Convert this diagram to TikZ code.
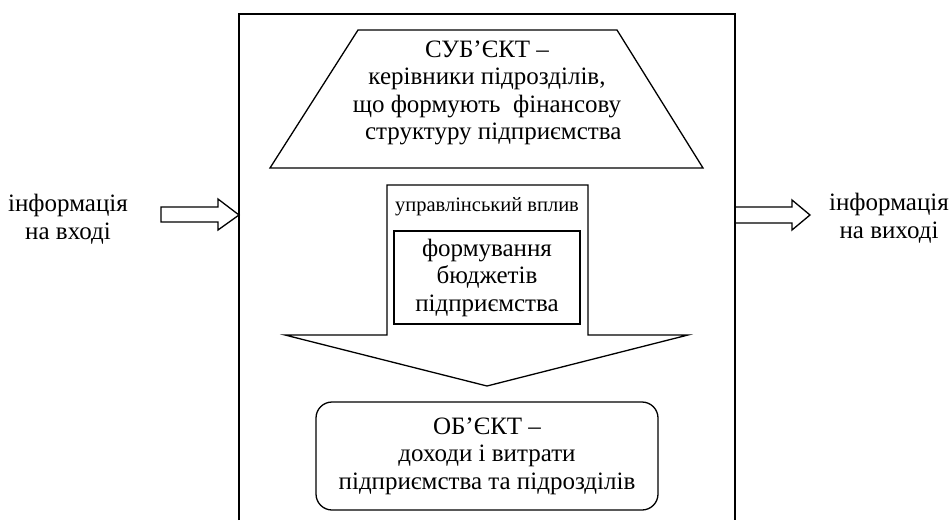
\documentclass[tikz,border=0pt]{standalone}
\usepackage{fontspec}
\setmainfont{Liberation Serif}
\usepackage{tikz}
\usetikzlibrary{calc}
\definecolor{ink}{HTML}{000000}
\definecolor{paper}{HTML}{FFFFFF}
\tikzset{
  frame/.style={draw=ink, line width=1.3pt, line join=miter},
  lab/.style={text=ink, align=center, inner sep=0pt, font=\fontsize{25}{27.5}\selectfont},
  labs/.style={text=ink, align=center, inner sep=0pt, font=\fontsize{20.5}{22}\selectfont},
  budgbox/.style={frame, minimum width=186pt, minimum height=93pt, inner sep=0pt},
  objbox/.style={frame, rounded corners=16pt, minimum width=342pt, minimum height=108pt, inner sep=0pt}
}

\begin{document}
\begin{tikzpicture}[x=1pt,y=-1pt]
  \useasboundingbox[fill=paper] (0,0) rectangle (951,520);
  \coordinate (FL) at (239,215);
  \coordinate (FR) at (735,215);
  \draw[frame] (239,520) -- (239,14) -- (735,14) -- (735,520);
  \draw[frame] (358,30) -- (617,30) -- (703,168) -- (270,168) -- cycle;
  \node[lab] (subj) at (487,93) {СУБ’ЄКТ –\\керівники підрозділів,\\що формують\ \ фінансову\\\ \ структуру підприємства};
  \draw[frame] (387,185) -- (588,185) -- (588,335) -- (688,335) -- (487,386)
    -- (285,335) -- (387,335) -- cycle;
  \node[labs] (infl) at (487,207) {управлінський вплив};
  \node[budgbox, lab] (budg) at (487,277.5) {формування\\бюджетів\\підприємства};
  \node[objbox, lab] (obj) at (487,456) {ОБ’ЄКТ –\\доходи і витрати\\підприємства та підрозділів};
  \node[lab] (inp) at (68,219) {інформація\\на вході};
  \node[lab] (outp) at (889,218) {інформація\\на виході};
  \draw[frame] (FL) -- ++(-21,-16) -- ++(0,8) -- ++(-57,0) -- ++(0,15)
    -- ++(57,0) -- ++(0,8) -- cycle;
  \draw[frame] ($(FR)+(0,-8)$) -- ++(57,0) -- ++(0,-7) -- ++(18,15)
    -- ++(-18,15) -- ++(0,-7) -- ++(-57,0);
\end{tikzpicture}
\end{document}
